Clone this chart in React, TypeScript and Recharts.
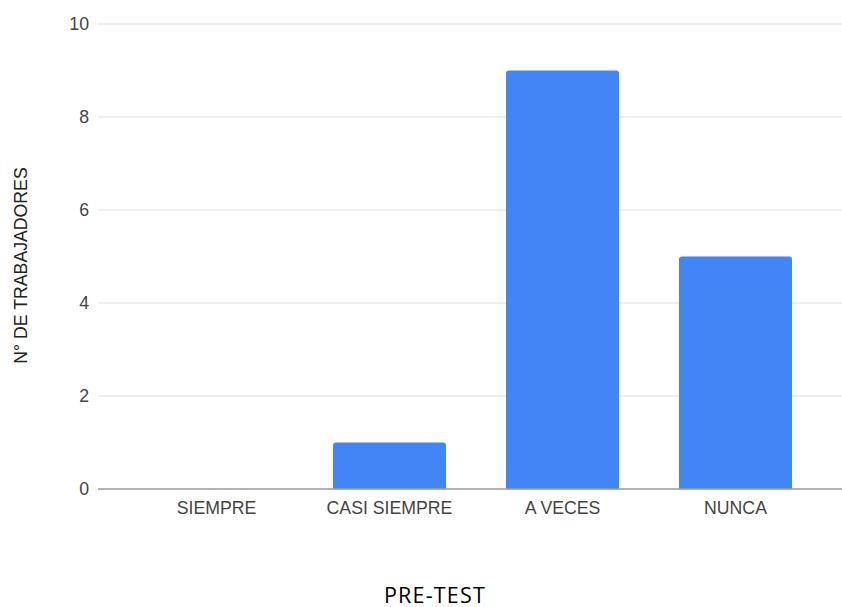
import { Bar, BarChart, CartesianGrid, XAxis, YAxis } from "recharts";

const categories = ["SIEMPRE", "CASI SIEMPRE", "A VECES", "NUNCA"];
const workers = [0, 1, 9, 5];
const yTicks = [0, 2, 4, 6, 8, 10];

const data = categories.map((name, i) => ({ name, value: workers[i] }));

const axisFont = "Arial, 'Liberation Sans', sans-serif";
const axisSize = 17.7;

// vertical axis title, nudged a little below the plot's middle
function YTitle(props: any) {
	const vb = props.viewBox || {};
	const cx = 21;
	const cy = (vb.y ?? 0) + (vb.height ?? 0) / 2 + 9;
	return (
		<text
			x={cx}
			y={cy}
			transform={`rotate(-90, ${cx}, ${cy})`}
			textAnchor="middle"
			dominantBaseline="central"
			fontFamily={axisFont}
			fontSize={axisSize}
			fill="#222"
		>
			N° DE TRABAJADORES
		</text>
	);
}

export default function App() {
	return (
		<div
			style={{
				position: "absolute",
				left: 0,
				top: 0,
				width: 842,
				height: 607,
				background: "#fff",
			}}
		>
			<BarChart
				width={842}
				height={607}
				data={data}
				margin={{ top: 24, right: 0, left: 0, bottom: 0 }}
				barCategoryGap={30}
			>
				<CartesianGrid vertical={false} stroke="#e0e0e0" strokeWidth={1.2} />
				<XAxis
					dataKey="name"
					height={118}
					padding={{ left: 32, right: 20 }}
					tickLine={false}
					tickMargin={6}
					axisLine={{ stroke: "#9e9e9e", strokeWidth: 1.6 }}
					tick={{ fill: "#444", fontSize: axisSize, fontFamily: axisFont }}
					interval={0}
				/>
				<YAxis
					width={98}
					domain={[0, 10]}
					ticks={yTicks}
					tickLine={false}
					axisLine={false}
					tickMargin={3}
					tick={{ fill: "#444", fontSize: axisSize, fontFamily: axisFont }}
					label={<YTitle />}
				/>
				<Bar
					dataKey="value"
					fill="#4285f4"
					radius={[3, 3, 0, 0]}
					isAnimationActive={false}
				/>
			</BarChart>
			<svg
				width={842}
				height={607}
				style={{ position: "absolute", left: 0, top: 0, pointerEvents: "none" }}
			>
				<text
					x={435}
					y={602.5}
					textAnchor="middle"
					fontFamily="'Open Sans', sans-serif"
					fontSize={21.5}
					letterSpacing={1.2}
					fill="#000"
				>
					PRE-TEST
				</text>
			</svg>
		</div>
	);
}
